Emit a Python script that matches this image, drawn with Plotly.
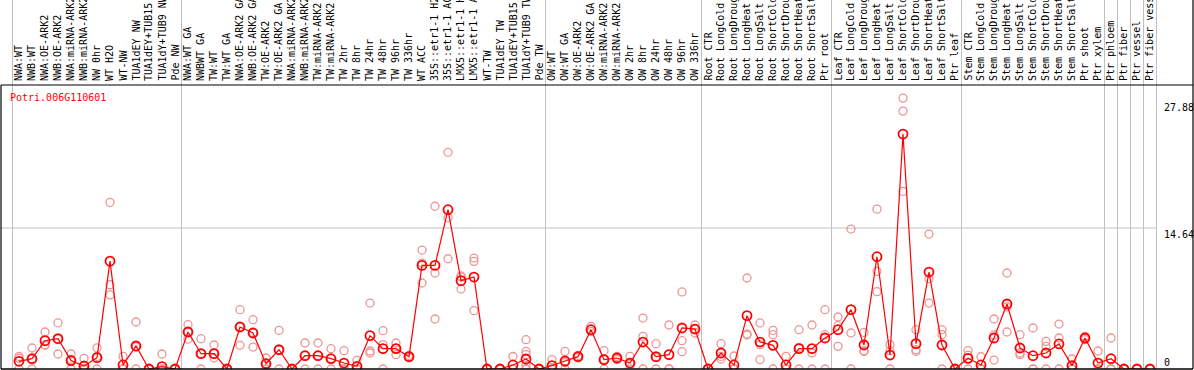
import plotly.graph_objects as go

title_text = "Potri.006G110601"

categories = [
    "NWA:WT", "NWB:WT", "NWA:OE-ARK2", "NWB:OE-ARK2", "NWA:miRNA-ARK2", "NWB:miRNA-ARK2",
    "NW 0hr", "WT H2O", "WT-NW", "TUA1dEY NW", "TUA1dEY+TUB15", "TUA1dY+TUB9 NW", "Pde NW",
    "NWA:WT GA", "NWBWT GA", "TW:WT", "TW:WT GA", "NWA:OE-ARK2 GA", "NWB:OE-ARK2 GA",
    "TW:OE-ARK2", "TW:OE-ARK2 GA", "NWA:miRNA-ARK2", "NWB:miRNA-ARK2", "TW:miRNA-ARK2",
    "TW:miRNA-ARK2", "TW 2hr", "TW 8hr", "TW 24hr", "TW 48hr", "TW 96hr", "TW 336hr",
    "WT ACC", "35S::etr1-1 H2O", "35S::etr1-1 ACC", "LMX5::etr1-1 H2O", "LMX5::etr1-1 ACC",
    "WT-TW", "TUA1dEY TW", "TUA1dEY+TUB15 TW", "TUA1dY+TUB9 TW", "Pde TW",
    "OW:WT", "OW:WT GA", "OW:OE-ARK2", "OW:OE-ARK2 GA", "OW:miRNA-ARK2", "OW:miRNA-ARK2",
    "OW 2hr", "OW 8hr", "OW 24hr", "OW 48hr", "OW 96hr", "OW 336hr",
    "Root CTR", "Root LongCold", "Root LongDrought", "Root LongHeat", "Root LongSalt",
    "Root ShortCold", "Root ShortDrought", "Root ShortHeat", "Root ShortSalt", "Ptr root",
    "Leaf CTR", "Leaf LongCold", "Leaf LongDrought", "Leaf LongHeat", "Leaf LongSalt",
    "Leaf ShortCold", "Leaf ShortDrought", "Leaf ShortHeat", "Leaf ShortSalt", "Ptr leaf",
    "Stem CTR", "Stem LongCold", "Stem LongDrought", "Stem LongHeat", "Stem LongSalt",
    "Stem ShortCold", "Stem ShortDrought", "Stem ShortHeat", "Stem ShortSalt", "Ptr shoot",
    "Ptr xylem", "Ptr phloem", "Ptr fiber", "Ptr vessel", "Ptr fiber vessel",
]

group_sizes = [13, 28, 12, 10, 10, 11, 1, 1, 1, 1]

means = [
    0.80, 1.07, 2.94, 3.15, 0.87, 0.31, 1.18, 11.2, 0.42, 2.39, 0.0, 0.24, 0.0,
    3.84, 1.59, 1.59, 0.0, 4.36, 3.74, 0.55, 2.0, 0.0, 1.38, 1.38, 1.07, 0.62, 0.28,
    3.46, 2.11, 2.11, 1.28, 10.76, 10.76, 16.54, 9.17, 9.55, 0.0, 0.0, 0.42, 1.04, 0.0,
    0.35, 0.83, 1.28, 4.08, 0.97, 1.14, 0.62, 2.8, 1.28, 1.49, 4.26, 4.15,
    0.0, 1.66, 0.42, 5.54, 2.8, 2.46, 0.42, 2.11, 2.11, 3.22,
    4.08, 6.16, 2.49, 11.66, 1.45, 24.4, 2.63, 10.07, 2.49, 0.0,
    1.11, 0.42, 3.22, 6.75, 2.18, 1.38, 1.66, 2.6, 0.35, 3.22,
    0.62, 1.07, 0.0, 0.0, 0.0,
]

replicates = [
    [1.3, 1.1, 0.0], [2.18, 1.0, 0.0], [3.84, 2.5, 2.46], [4.78, 3.1, 1.56],
    [1.56, 1.0, 0.0], [1.1, 0.0, 0.0], [2.2, 1.3, 0.0], [17.3, 8.75, 7.7],
    [1.31, 0.0, 0.0], [4.88, 2.3, 0.0], [0.0, 0.0, 0.0], [1.56, 0.0, 0.0],
    [0.0, 0.0, 0.0], [4.6, 3.84, 3.1], [3.15, 1.6, 0.0], [2.49, 1.59, 1.14],
    [0.0, 0.0, 0.0], [6.16, 4.4, 2.46], [5.12, 3.8, 2.28], [1.14, 0.5, 0.0],
    [4.01, 2.0, 0.0], [0.0, 0.0, 0.0], [2.7, 1.4, 0.0], [2.7, 1.4, 0.0],
    [2.11, 1.1, 0.0], [1.9, 0.0, 0.0], [0.9, 0.0, 0.0], [6.85, 1.87, 1.66],
    [3.98, 2.53, 0.0], [2.7, 2.14, 1.49], [1.4, 1.28, 1.16], [12.35, 11.0, 8.93],
    [16.9, 9.97, 5.19], [22.5, 15.7, 11.45], [9.66, 9.55, 8.3], [11.52, 11.18, 6.06],
    [0.0, 0.0, 0.0], [0.0, 0.0, 0.0], [1.3, 0.0, 0.0], [3.04, 1.83, 1.49, 0.38, 0.0, 0.0],
    [0.0, 0.0, 0.0], [0.97, 0.1, 0.0], [1.83, 0.66, 0.0], [1.4, 1.28, 1.16],
    [4.43, 3.91, 3.9], [1.9, 1.0, 0.0], [1.31, 1.14, 0.97], [1.31, 0.55, 0.0],
    [5.29, 3.39, 0.0], [2.63, 1.2, 0.0], [4.57, 0.0, 0.0], [8.0, 2.94, 1.8],
    [4.57, 4.15, 3.74], [0.0, 0.0, 0.0], [2.63, 1.31, 1.04], [1.35, 0.0, 0.0],
    [9.45, 3.64, 3.53], [4.78, 2.53, 0.97], [4.01, 3.56, 0.0], [1.31, 0.0, 0.0],
    [4.08, 2.25, 0.0], [4.57, 1.66, 0.0], [6.16, 3.56, 0.0], [5.4, 4.5, 2.35],
    [14.53, 3.74, 0.0], [3.8, 1.9, 1.83], [16.6, 10.14, 8.03], [2.53, 1.9, 0.0],
    [28.13, 26.78, 18.44], [4.08, 2.0, 1.83], [14.01, 9.38, 6.85], [4.08, 3.56, 0.0],
    [0.0, 0.0, 0.0], [1.9, 1.43, 0.0], [1.27, 0.0, 0.0], [5.19, 3.54, 0.93],
    [9.97, 6.45, 3.84], [3.56, 1.66, 1.49], [4.26, 0.0, 0.0], [2.87, 2.35, 0.0],
    [4.67, 3.22, 0.0], [1.04, 0.0, 0.0], [3.39, 3.22, 3.05], [1.87, 0.0, 0.0],
    [3.22, 0.0, 0.0], [0.0, 0.0, 0.0], [0.0, 0.0, 0.0], [0.0, 0.0, 0.0],
]

y_tick_values = [27.88, 14.64, 0]
y_tick_labels = ["27.88", "14.64", "0"]

# ---------------- layout geometry ----------------
W, H = 1194, 370
ML, MR, MT, MB = 1, 1, 85, 1
plot_w = W - ML - MR
plot_h = H - MT - MB
step_px = 13.0
first_px = 19.0
x_min = -(first_px - ML) / step_px
x_max = x_min + plot_w / step_px
y_max = plot_h / 9.63

FONT = "DejaVu Sans Mono"
GRID = "#c0c0c0"


def xpaper(idx):
    return (idx - x_min) / (x_max - x_min)


def xpaper_from_px(px):
    return (px - ML) / plot_w


def ypaper_from_px(py):
    return (H - MB - py) / plot_h


idx = list(range(len(categories)))

rx, ry = [], []
for i, reps in enumerate(replicates):
    for v in reps:
        rx.append(i)
        ry.append(v)

fig = go.Figure()
fig.add_trace(go.Scatter(
    x=rx, y=ry, mode="markers", hoverinfo="skip",
    marker=dict(symbol="circle-open", size=8, color="rgb(236,150,150)",
                line=dict(width=1.3, color="rgb(236,150,150)")),
    showlegend=False,
))
fig.add_trace(go.Scatter(
    x=idx, y=means, mode="lines+markers",
    line=dict(color="#ff0000", width=1.2),
    marker=dict(symbol="circle-open", size=9, color="#ff0000",
                line=dict(width=1.8, color="#ff0000")),
    showlegend=False,
))

shapes = []
b = -0.5
bounds = [b]
for g in group_sizes:
    b += g
    bounds.append(b)
top_paper = ypaper_from_px(0)
for bd in bounds:
    shapes.append(dict(type="line", xref="paper", yref="paper",
                       x0=xpaper(bd), x1=xpaper(bd), y0=0, y1=top_paper,
                       line=dict(color=GRID, width=1), layer="below"))
shapes.append(dict(type="line", xref="paper", yref="y",
                   x0=0, x1=xpaper(bounds[-1]), y0=y_tick_values[1], y1=y_tick_values[1],
                   line=dict(color=GRID, width=1), layer="below"))
# frame
shapes.append(dict(type="line", xref="paper", yref="paper", x0=0, x1=1, y0=1, y1=1,
                   line=dict(color="black", width=1.2)))
shapes.append(dict(type="line", xref="paper", yref="paper", x0=0, x1=1, y0=0, y1=0,
                   line=dict(color="black", width=1.5)))
shapes.append(dict(type="line", xref="paper", yref="paper", x0=0, x1=0, y0=0, y1=1,
                   line=dict(color="black", width=1.2)))
shapes.append(dict(type="line", xref="paper", yref="paper", x0=1, x1=1, y0=0, y1=top_paper,
                   line=dict(color="black", width=1.2)))

annotations = []
annotations.append(dict(text=title_text, xref="paper", yref="paper",
                        x=xpaper_from_px(9), y=ypaper_from_px(91),
                        xanchor="left", yanchor="top", showarrow=False, borderpad=0,
                        font=dict(family=FONT, size=10, color="#ff0000")))
lab_x = xpaper_from_px(1163)
for v, t in zip(y_tick_values, y_tick_labels):
    annotations.append(dict(text=t, xref="paper", yref="y", x=lab_x, y=v,
                            xanchor="left", yanchor="bottom" if v == 0 else "top",
                            showarrow=False, borderpad=0,
                            font=dict(family=FONT, size=10, color="black")))
for i, c in enumerate(categories):
    annotations.append(dict(text=c, xref="x", yref="paper", x=i, y=ypaper_from_px(82),
                            xanchor="center", yanchor="bottom", textangle=-90,
                            showarrow=False, borderpad=0,
                            font=dict(family=FONT, size=10, color="black")))

fig.update_layout(
    width=W, height=H,
    margin=dict(l=ML, r=MR, t=MT, b=MB, pad=0),
    paper_bgcolor="white", plot_bgcolor="white",
    hovermode=False,
    xaxis=dict(range=[x_min, x_max], showgrid=False, zeroline=False, showticklabels=False,
               showline=False, ticks="", fixedrange=True),
    yaxis=dict(range=[0, y_max], showgrid=False, zeroline=False, showticklabels=False,
               showline=False, ticks="", fixedrange=True),
    shapes=shapes, annotations=annotations,
)

# remove the default 8px page margin so the figure sits at the window's top-left corner
fig.write_html("out.html",
               config={"displayModeBar": False, "staticPlot": True},
               post_script="document.body.style.margin='0';document.body.style.overflow='hidden';")
